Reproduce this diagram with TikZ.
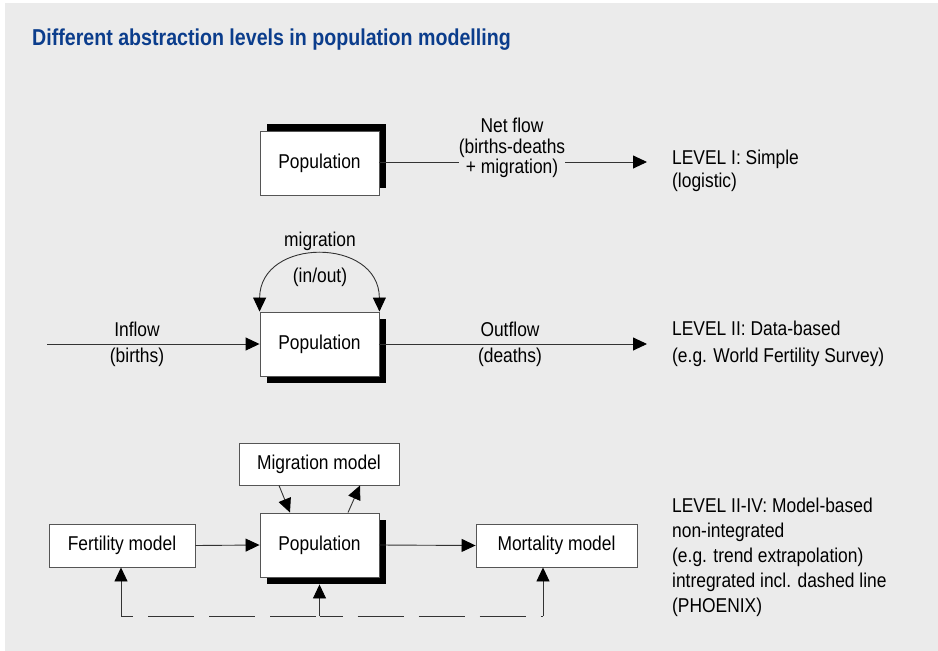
\documentclass[tikz,border=0pt]{standalone}
\usepackage{fontspec}
\setmainfont{Liberation Sans}[FakeStretch=0.87]
\newfontfamily\headfont{Liberation Sans}[FakeStretch=0.853]
\usetikzlibrary{arrows.meta,shadows}
\definecolor{bggray}{HTML}{EBEBEB}
\definecolor{headblue}{HTML}{0B3D8C}
\definecolor{wire}{HTML}{333333}
\definecolor{rim}{HTML}{555555}
\begin{document}
\begin{tikzpicture}[x=1pt,y=-1pt,
  >={Triangle[length=14pt,width=13pt,color=black]},
  txt/.style={font=\fontsize{20}{25}\selectfont, inner sep=0pt, text=black},
  box/.style={draw=rim, fill=white, line width=0.9pt, inner sep=0pt,
    font=\fontsize{20}{25}\selectfont},
  popbox/.style={box, minimum width=119pt, minimum height=64pt},
  shadowup/.style={drop shadow={shadow xshift=7pt, shadow yshift=7pt, fill=black, opacity=1}},
  shadowdown/.style={drop shadow={shadow xshift=7pt, shadow yshift=-7pt, fill=black, opacity=1}},
  flow/.style={draw=wire, line width=0.9pt, ->},
  twoway/.style={draw=wire, line width=0.9pt, <->},
  dashline/.style={draw=wire, line width=0.9pt, dash pattern=on 46pt off 15pt}
]
\useasboundingbox (0,0) rectangle (938,651);
\fill[white] (0,0) rectangle (938,651);
\fill[bggray] (5,3) rectangle (938,651);

% heading
\node[anchor=base west, inner sep=0pt, text=headblue,
  font=\headfont\bfseries\fontsize{23}{27}\selectfont] (head) at (32,45)
  {Different abstraction levels in population modelling};

% level I: single stock with net flow
\node[popbox, shadowup] (pop1) at (319.5,163) {Population};
\coordinate (out1) at (647,162);
\draw[flow] (pop1.east |- out1) -- (out1);
\node[txt, align=center, fill=bggray, font=\fontsize{20}{20.5}\selectfont] (net) at (512,148)
  {Net flow\\(births-deaths\\+ migration)};
\node[txt, anchor=west, align=left, font=\fontsize{20}{23}\selectfont] (lev1) at (672,171)
  {LEVEL I: Simple\\(logistic)};

% level II: separate inflow and outflow
\node[popbox, shadowdown] (pop2) at (319.5,344) {Population};
\coordinate (in2) at (47,344);
\coordinate (out2) at (647,344);
\draw[flow] (in2) -- (pop2.west);
\draw[flow] (pop2.east) -- (out2);
\draw[twoway] (pop2.north west) .. controls (260,237) and (379,237) .. (pop2.north east);
\node[txt] (migl) at (320,241) {migration};
\node[txt] (inout) at (320,277) {(in/out)};
\node[txt, align=center, font=\fontsize{20}{26}\selectfont] (inl) at (137,344) {Inflow\\(births)};
\node[txt, align=center, font=\fontsize{20}{26}\selectfont] (outl) at (510,344) {Outflow\\(deaths)};
\node[txt, anchor=west, align=left, font=\fontsize{20}{27}\selectfont] (lev2) at (672,344)
  {LEVEL II: Data-based\\(e.g. World Fertility Survey)};

% level III: coupled sub-models
\node[popbox, shadowdown] (pop3) at (319.5,545) {Population};
\node[box, minimum width=160pt, minimum height=42pt] (mig) at (319,464) {Migration model};
\node[box, minimum width=146pt, minimum height=43pt] (fert) at (122,545.5) {Fertility model};
\node[box, minimum width=161pt, minimum height=43pt] (mort) at (556.5,545.5) {Mortality model};
\draw[flow] (fert.east) -- (pop3.west);
\draw[flow] (pop3.east) -- (mort.west);
\draw[flow] ([xshift=-40pt]mig.south) -- ([xshift=-29.5pt]pop3.north);
\draw[flow] ([xshift=28.5pt]pop3.north) -- ([xshift=41pt]mig.south);

% feedback loop along the bottom
\coordinate (fb) at (121,616);
\coordinate (pb) at (319.5,616);
\coordinate (mb) at (543,616);
\draw[dashline, dash phase=34pt] (fb) -- (pb);
\draw[dashline, dash phase=23pt] (pb) -- (mb);
\draw[flow] (fb) -- (fb |- fert.south);
\draw[flow] (pb) -- ([yshift=-7pt]pop3.south);
\draw[flow] (mb) -- (mb |- mort.south);

\node[txt, anchor=west, align=left] (lev3) at (672,557.5)
  {LEVEL II-IV: Model-based\\non-integrated\\(e.g. trend extrapolation)\\intregrated incl. dashed line\\(PHOENIX)};
\end{tikzpicture}
\end{document}
